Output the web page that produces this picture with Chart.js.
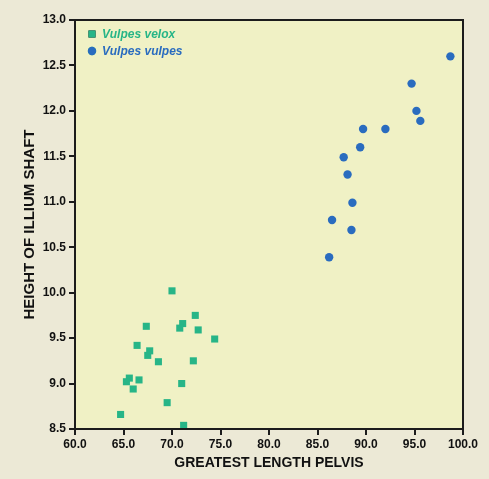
<!DOCTYPE html>
<html>
<head>
<meta charset="utf-8">
<script src="https://cdn.jsdelivr.net/npm/chart.js@4/dist/chart.umd.min.js"></script>
<style>
  body { margin: 0; background: #ece9d6; }
  #cv_scatter { display: block; }
</style>
</head>
<body>
<canvas id="cv_scatter" width="489" height="479"></canvas>
<script>
// Vulpes velox (squares)
const veloxLength = [70.0, 72.4, 71.1, 70.8, 72.7, 67.35, 74.4, 66.4, 67.7, 67.5, 68.6, 72.2, 65.6, 65.3, 66.6, 66.0, 71.0, 69.5, 64.7, 71.2];
const veloxHeight = [10.02, 9.75, 9.66, 9.61, 9.59, 9.63, 9.49, 9.42, 9.36, 9.31, 9.24, 9.25, 9.06, 9.02, 9.04, 8.94, 9.0, 8.79, 8.66, 8.54];

// Vulpes vulpes (circles)
const vulpesLength = [98.7, 94.7, 95.2, 95.6, 89.7, 92.0, 89.4, 87.7, 88.1, 88.6, 86.5, 88.5, 86.2];
const vulpesHeight = [12.6, 12.3, 12.0, 11.89, 11.8, 11.8, 11.6, 11.49, 11.3, 10.99, 10.8, 10.69, 10.39];

const seriesNames = ['Vulpes velox', 'Vulpes vulpes'];
const xTicks = [60, 65, 70, 75, 80, 85, 90, 95, 100];
const yTicks = [8.5, 9.0, 9.5, 10.0, 10.5, 11.0, 11.5, 12.0, 12.5, 13.0];

const greenCol = '#27b587';
const blueCol = '#2a6cbf';
const axisCol = '#1c1c1c';

let chart_01;

const toPoints = (xs, ys) => xs.map((x, i) => ({ x: x, y: ys[i] }));

// yellow plot area + box border
const plotBox = {
    id: 'plotBox',
    beforeDraw(chart) {
        const { ctx, chartArea: a } = chart;
        ctx.save();
        ctx.fillStyle = '#f0f1c5';
        ctx.fillRect(a.left, a.top, a.right - a.left, a.bottom - a.top);
        ctx.restore();
    },
    afterDraw(chart) {
        const { ctx, chartArea: a } = chart;
        ctx.save();
        ctx.strokeStyle = axisCol;
        ctx.lineWidth = 2;
        ctx.strokeRect(a.left, a.top, a.right - a.left, a.bottom - a.top);
        ctx.restore();
    }
};

// legend drawn inside the top-left corner
const innerLegend = {
    id: 'innerLegend',
    afterDraw(chart) {
        const { ctx, chartArea: a } = chart;
        ctx.save();
        chart.data.datasets.forEach((ds, i) => {
            const mx = a.left + 17;
            const my = a.top + 14 + i * 17;
            Chart.helpers.drawPoint(ctx, {
                pointStyle: ds.pointStyle,
                radius: ds.pointRadius,
                borderWidth: 0
            }, mx, my);
            ctx.fillStyle = ds.backgroundColor;
            ctx.fill();
            ctx.font = 'italic bold 12px "Liberation Sans", Arial, sans-serif';
            ctx.textBaseline = 'middle';
            ctx.fillText(ds.label, mx + 10, my + 1);
        });
        ctx.restore();
    }
};

const init_chart_01 = () => {
    const ctx01 = document.getElementById('cv_scatter').getContext('2d');
    Chart.defaults.font.family = '"Liberation Sans", Arial, sans-serif';
    Chart.defaults.font.weight = 'bold';
    Chart.defaults.color = '#111';

    chart_01 = new Chart(ctx01, {
        type: 'scatter',
        data: {
            datasets: [
                {
                    label: seriesNames[0],
                    data: toPoints(veloxLength, veloxHeight),
                    pointStyle: 'rect',
                    pointRadius: 5,
                    pointHoverRadius: 5,
                    backgroundColor: greenCol,
                    borderColor: greenCol,
                    borderWidth: 0
                },
                {
                    label: seriesNames[1],
                    data: toPoints(vulpesLength, vulpesHeight),
                    pointStyle: 'circle',
                    pointRadius: 4.2,
                    pointHoverRadius: 4.2,
                    backgroundColor: blueCol,
                    borderColor: blueCol,
                    borderWidth: 0
                }
            ]
        },
        options: {
            responsive: false,
            animation: false,
            layout: { padding: { top: 20, right: 26, left: 0, bottom: 0 } },
            plugins: {
                legend: { display: false },
                tooltip: { enabled: false }
            },
            scales: {
                x: {
                    type: 'linear',
                    min: 60,
                    max: 100,
                    afterFit: (s) => { s.height = 50; },
                    afterBuildTicks: (s) => { s.ticks = xTicks.map(v => ({ value: v })); },
                    ticks: {
                        font: { size: 12, weight: 'bold' },
                        padding: 2,
                        maxRotation: 0,
                        callback: (v) => Number(v).toFixed(1)
                    },
                    grid: { drawOnChartArea: false, drawTicks: true, tickLength: 6, color: axisCol, lineWidth: 2 },
                    border: { color: axisCol, width: 2 },
                    title: {
                        display: true,
                        text: 'GREATEST LENGTH PELVIS',
                        font: { size: 14, weight: 'bold' },
                        color: '#111',
                        padding: { top: 0, bottom: 7 }
                    }
                },
                y: {
                    type: 'linear',
                    min: 8.5,
                    max: 13,
                    afterFit: (s) => { s.width = 75; },
                    afterBuildTicks: (s) => { s.ticks = yTicks.map(v => ({ value: v })); },
                    ticks: {
                        font: { size: 12, weight: 'bold' },
                        padding: 3,
                        callback: (v) => Number(v).toFixed(1)
                    },
                    grid: { drawOnChartArea: false, drawTicks: true, tickLength: 6, color: axisCol, lineWidth: 2 },
                    border: { color: axisCol, width: 2 },
                    title: {
                        display: true,
                        text: 'HEIGHT OF ILLIUM SHAFT',
                        font: { size: 15, weight: 'bold' },
                        color: '#111',
                        padding: { top: 21, bottom: 0 }
                    }
                }
            }
        },
        plugins: [plotBox, innerLegend]
    });
};

init_chart_01();
</script>
</body>
</html>
